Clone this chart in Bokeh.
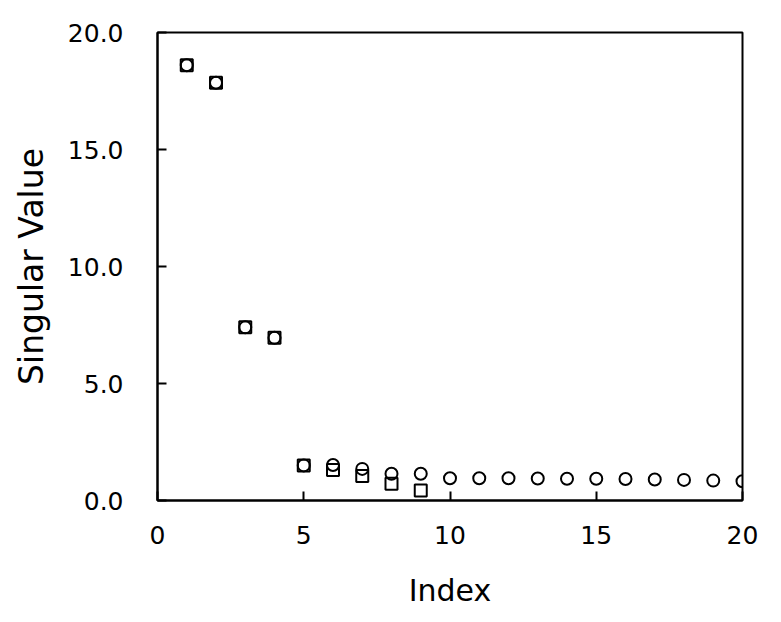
from bokeh.plotting import figure
from bokeh.models import Range1d, FixedTicker, PrintfTickFormatter
from bokeh.embed import file_html
from bokeh.resources import INLINE

# Data
idx_squares = [1, 2, 3, 4, 5, 6, 7, 8, 9]
sv_squares = [18.6, 17.85, 7.4, 6.95, 1.5, 1.3, 1.05, 0.72, 0.43]
idx_circles = list(range(1, 21))
sv_circles = [18.6, 17.85, 7.4, 6.95, 1.5, 1.52, 1.35, 1.14, 1.14, 0.95,
              0.95, 0.95, 0.94, 0.93, 0.93, 0.92, 0.90, 0.88, 0.85, 0.82]
x_ticks = [0, 5, 10, 15, 20]
y_ticks = [0, 5, 10, 15, 20]

FONT = "DejaVu Sans"

p = figure(width=765, height=614, output_backend="svg", toolbar_location=None,
           x_range=Range1d(0, 20), y_range=Range1d(0, 20),
           min_border_left=157, min_border_right=23, min_border_top=32, min_border_bottom=114)

p.grid.visible = False
p.outline_line_color = "black"
p.outline_line_width = 2
p.background_fill_color = "white"
p.border_fill_color = "white"

for ax in (p.xaxis[0], p.yaxis[0]):
    ax.axis_line_width = 2
    ax.axis_line_color = "black"
    ax.major_tick_in = 9
    ax.major_tick_out = 0
    ax.major_tick_line_width = 2
    ax.minor_tick_line_color = None
    ax.major_label_text_font = FONT
    ax.major_label_text_font_size = "25px"
    ax.major_label_text_color = "black"
    ax.axis_label_text_font = FONT
    ax.axis_label_text_font_style = "normal"
    ax.axis_label_text_color = "black"

p.xaxis.axis_label_text_font_size = "30px"
p.yaxis.axis_label_text_font_size = "33px"
p.xaxis.ticker = FixedTicker(ticks=x_ticks)
p.yaxis.ticker = FixedTicker(ticks=y_ticks)
p.yaxis.formatter = PrintfTickFormatter(format="%.1f")
p.xaxis.axis_label = "Index"
p.yaxis.axis_label = "Singular Value"
p.xaxis.major_label_standoff = 25
p.yaxis.major_label_standoff = 34
p.xaxis.axis_label_standoff = 26
p.yaxis.axis_label_standoff = 14

p.scatter(idx_circles, sv_circles, marker="circle", size=12, fill_color=None,
          line_color="black", line_width=2)
p.scatter(idx_squares, sv_squares, marker="square", size=12, fill_color=None,
          line_color="black", line_width=2)

open("out.html", "w").write(file_html(p, INLINE))
